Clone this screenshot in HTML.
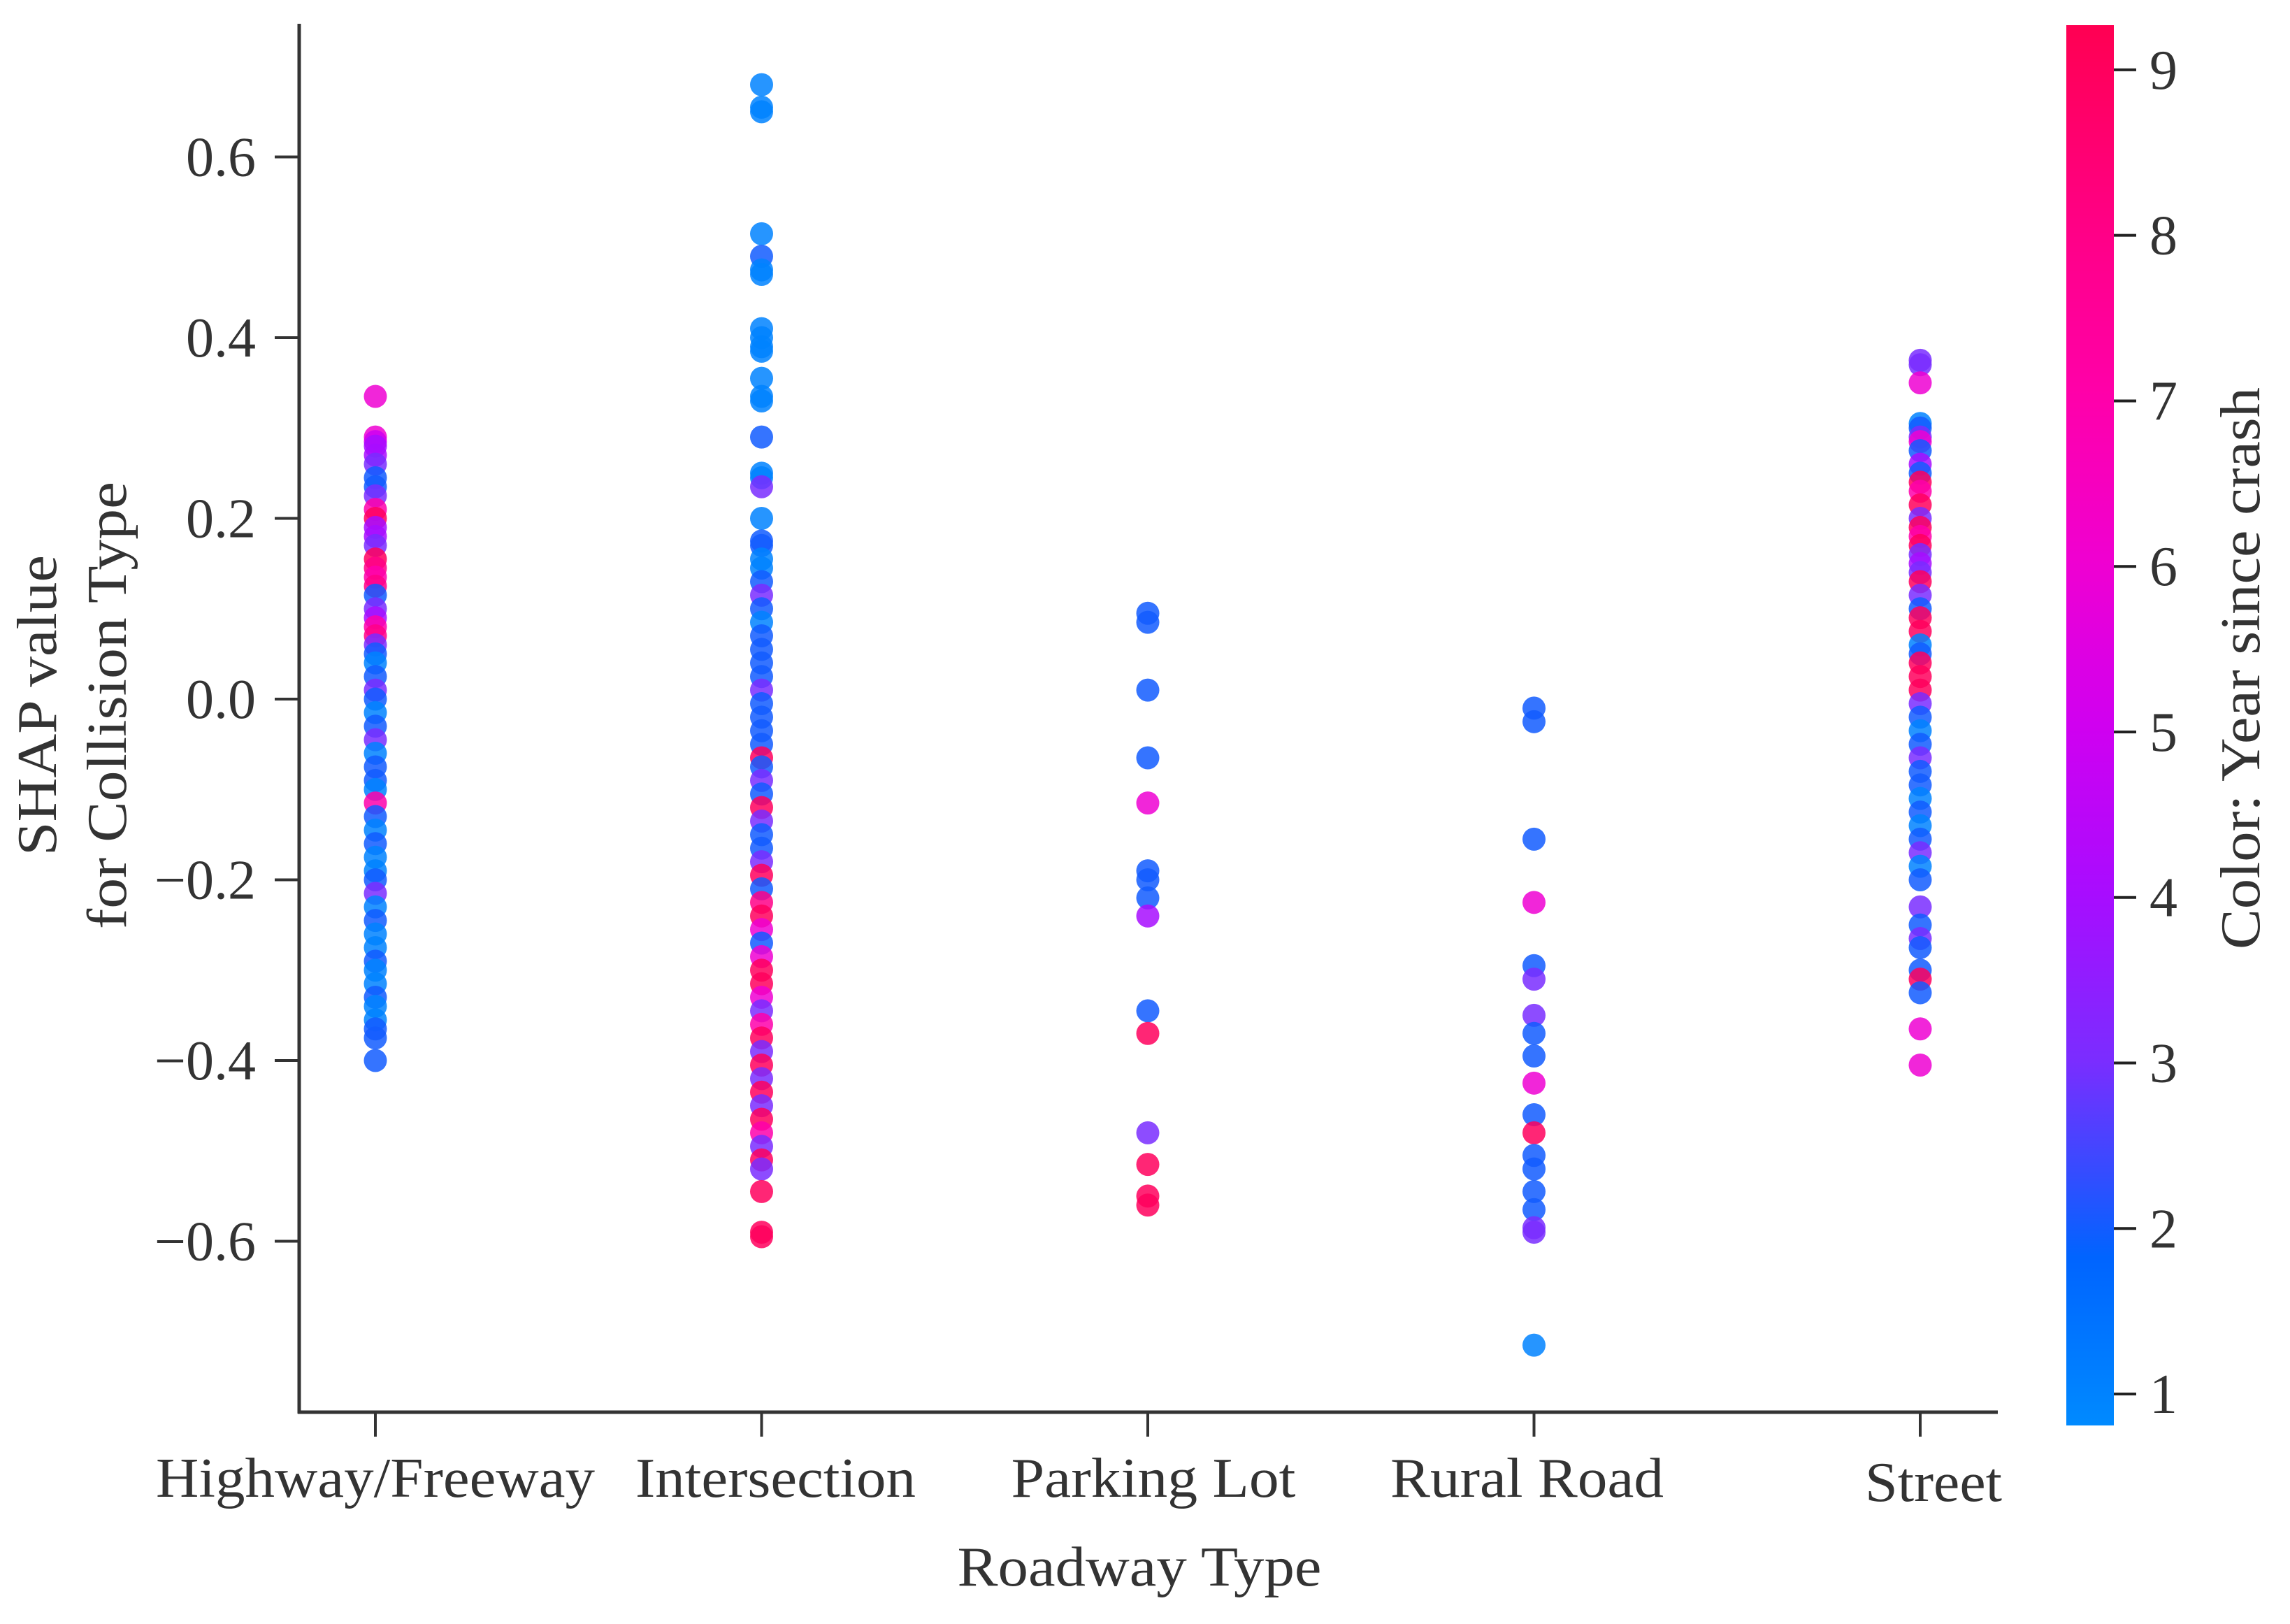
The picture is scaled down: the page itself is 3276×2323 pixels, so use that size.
<!DOCTYPE html>
<html><head><meta charset="utf-8"><style>
html,body{margin:0;padding:0;background:#fff}
svg{display:block}
text{font-family:"Liberation Serif",serif;fill:#333}
</style></head><body>
<svg id="chart" width="3276" height="2323" viewBox="0 0 3276 2323" xmlns="http://www.w3.org/2000/svg">
<defs>
<linearGradient id="cbar" x1="0" y1="1" x2="0" y2="0">
<stop offset="0" stop-color="#008aff"/>
<stop offset="0.12" stop-color="#0064ff"/>
<stop offset="0.26" stop-color="#7a2dff"/>
<stop offset="0.38" stop-color="#a80cff"/>
<stop offset="0.5" stop-color="#d000f0"/>
<stop offset="0.62" stop-color="#f000d0"/>
<stop offset="0.74" stop-color="#ff00a8"/>
<stop offset="0.86" stop-color="#ff0084"/>
<stop offset="1" stop-color="#ff0052"/>
</linearGradient>
</defs>
<g id="points"></g>
<g id="axes"></g>
<rect x="2956" y="36" width="68" height="2003" fill="url(#cbar)"/>
<g id="cbticks"></g>
<text transform="translate(80,1009) rotate(-90)" text-anchor="middle" font-size="80" textLength="430" lengthAdjust="spacingAndGlyphs">SHAP value</text>
<text transform="translate(180,1009) rotate(-90)" text-anchor="middle" font-size="80" textLength="640" lengthAdjust="spacingAndGlyphs">for Collision Type</text>
<text x="1630" y="2268" text-anchor="middle" font-size="80" textLength="521" lengthAdjust="spacingAndGlyphs">Roadway Type</text>
<text transform="translate(3232,956) rotate(-90)" text-anchor="middle" font-size="80" textLength="804" lengthAdjust="spacingAndGlyphs">Color: Year since crash</text>
</svg>
<script>
const categories = ["Highway/Freeway","Intersection","Parking Lot","Rural Road","Street"];
const yTicks = [-0.6,-0.4,-0.2,0.0,0.2,0.4,0.6];
const yTickLabels = ["\u22120.6","\u22120.4","\u22120.2","0.0","0.2","0.4","0.6"];
const cbTicks = [1,2,3,4,5,6,7,8,9];
const hwVals = [0.335,0.29,0.285,0.28,0.27,0.26,0.245,0.235,0.225,0.21,0.2,0.19,0.18,0.17,0.155,0.145,0.135,0.125,0.115,0.1,0.09,0.08,0.07,0.06,0.05,0.04,0.025,0.01,0.0,-0.015,-0.03,-0.045,-0.06,-0.075,-0.09,-0.1,-0.115,-0.13,-0.145,-0.16,-0.175,-0.19,-0.2,-0.215,-0.23,-0.245,-0.26,-0.275,-0.29,-0.3,-0.315,-0.33,-0.34,-0.355,-0.365,-0.375,-0.4];
const hwYears = [6,6,5,4,4,3,2,2,3,7,9,4,4,3,9,8,7,8,2,3,4,7,8,3,2,1,2,3,2,1,2,3,1,2,2,1,7,2,1,2,1,1,2,3,1,2,1,1,2,1,1,2,1,1,2,2,2];
const isVals = [0.68,0.655,0.65,0.515,0.49,0.475,0.47,0.41,0.40,0.39,0.385,0.355,0.335,0.33,0.29,0.25,0.245,0.235,0.2,0.175,0.17,0.155,0.145,0.13,0.115,0.10,0.085,0.07,0.055,0.04,0.025,0.01,-0.005,-0.02,-0.035,-0.05,-0.065,-0.075,-0.09,-0.105,-0.12,-0.135,-0.15,-0.165,-0.18,-0.195,-0.21,-0.225,-0.24,-0.255,-0.27,-0.285,-0.3,-0.315,-0.33,-0.345,-0.36,-0.375,-0.39,-0.405,-0.42,-0.435,-0.45,-0.465,-0.48,-0.495,-0.51,-0.52,-0.545,-0.59,-0.595];
const isYears = [1,1,1,1,2,1,1,1,1,1,1,1,1,1,2,1,1,3,1,2,2,1,1,2,3,2,1,2,2,2,2,3,2,2,2,2,9,2,3,2,9,3,2,2,3,9,2,8,9,6,2,6,9,9,6,3,7,9,3,9,3,9,3,9,7,3,9,3,9,9,9];
const plVals = [0.095,0.085,0.01,-0.065,-0.115,-0.19,-0.2,-0.22,-0.24,-0.345,-0.37,-0.48,-0.515,-0.55,-0.56];
const plYears = [2,2,2,2,6,2,2,2,4,2,9,3,9,9,9];
const rrVals = [-0.01,-0.025,-0.155,-0.225,-0.295,-0.31,-0.35,-0.37,-0.395,-0.425,-0.46,-0.48,-0.505,-0.52,-0.545,-0.565,-0.585,-0.59,-0.715];
const rrYears = [2,2,2,6,2,3,3,2,2,6,2,9,2,2,2,2,3,3,1];
const stVals = [0.375,0.37,0.35,0.305,0.3,0.29,0.285,0.275,0.26,0.25,0.24,0.23,0.215,0.2,0.19,0.18,0.17,0.16,0.15,0.14,0.13,0.115,0.1,0.09,0.075,0.06,0.05,0.04,0.025,0.01,-0.005,-0.02,-0.035,-0.05,-0.065,-0.08,-0.095,-0.11,-0.125,-0.14,-0.155,-0.17,-0.185,-0.2,-0.23,-0.25,-0.265,-0.275,-0.3,-0.31,-0.325,-0.365,-0.405];
const stYears = [3,3,6,1,2,3,6,2,4,2,9,7,9,3,9,7,9,3,4,3,9,3,2,9,9,1,2,9,9,9,3,2,1,2,3,2,2,1,2,1,2,3,1,2,3,2,3,2,2,9,2,6,6];
const seriesVals = [hwVals,isVals,plVals,rrVals,stVals];
const seriesYears = [hwYears,isYears,plYears,rrYears,stYears];

const NS="http://www.w3.org/2000/svg";
const X0=537, XSTEP=552.5;
function xPos(i){return X0+i*XSTEP;}
function yPos(v){return 1000-v*1292.5;}
const CMIN=0.81, CMAX=9.27, CB_TOP=36, CB_BOT=2039;
function cbY(v){return CB_BOT-(v-CMIN)/(CMAX-CMIN)*(CB_BOT-CB_TOP);}
const stops=[[0,[0,138,255]],[0.12,[0,100,255]],[0.26,[122,45,255]],[0.38,[168,12,255]],[0.5,[208,0,240]],[0.62,[240,0,208]],[0.74,[255,0,168]],[0.86,[255,0,132]],[1,[255,0,82]]];
function color(y){
  let t=Math.max(0,Math.min(1,(y-CMIN)/(CMAX-CMIN)));
  for(let k=1;k<stops.length;k++){
    if(t<=stops[k][0]){
      const a=stops[k-1],b=stops[k],f=(t-a[0])/(b[0]-a[0]);
      const c=a[1].map((q,j)=>Math.round(q+(b[1][j]-q)*f));
      return `rgb(${c[0]},${c[1]},${c[2]})`;
    }
  }
  return "rgb(255,0,82)";
}
function mk(tag,attrs,parent){const e=document.createElementNS(NS,tag);for(const k in attrs)e.setAttribute(k,attrs[k]);parent.appendChild(e);return e;}

const pts=document.getElementById('points');
seriesVals.forEach((vals,i)=>{
  vals.forEach((v,j)=>{
    const yr=seriesYears[i][j]!==undefined?seriesYears[i][j]:2;
    const c=mk('circle',{cx:xPos(i),cy:yPos(v),r:16.5,fill:color(yr),'fill-opacity':0.85},pts);
    
    
  });
});

const ax=document.getElementById('axes');
const sp=mk('line',{x1:428,y1:34,x2:428,y2:2022,stroke:'#333','stroke-width':5},ax);


const bx=mk('line',{x1:426,y1:2020,x2:2858,y2:2020,stroke:'#333','stroke-width':5},ax);


yTicks.forEach((v,i)=>{
  const t=mk('line',{x1:393,y1:yPos(v),x2:428,y2:yPos(v),stroke:'#333','stroke-width':4},ax);
  
  
  const l=mk('text',{x:366,y:yPos(v)+27,'text-anchor':'end','font-size':80},ax);
  l.textContent=yTickLabels[i];
  
  
});
const xLabW=[628,401,407,391,196];
const xLabDx=[0,20,8,-10,19];
const xLabDy=[0,0,0,0,6];
categories.forEach((c,i)=>{
  const t=mk('line',{x1:xPos(i),y1:2020,x2:xPos(i),y2:2055,stroke:'#333','stroke-width':4},ax);
  
  
  const l=mk('text',{x:xPos(i)+xLabDx[i],y:2141+xLabDy[i],'text-anchor':'middle','font-size':80,textLength:xLabW[i],lengthAdjust:'spacingAndGlyphs'},ax);
  l.textContent=c;
  
  
});
const cbt=document.getElementById('cbticks');
cbTicks.forEach(v=>{
  const t=mk('line',{x1:3024,y1:cbY(v),x2:3056,y2:cbY(v),stroke:'#222','stroke-width':4},cbt);
  
  
  const l=mk('text',{x:3095,y:cbY(v)+27,'text-anchor':'middle','font-size':80},cbt);
  l.textContent=String(v);
  
  
});
</script>
</body></html>
